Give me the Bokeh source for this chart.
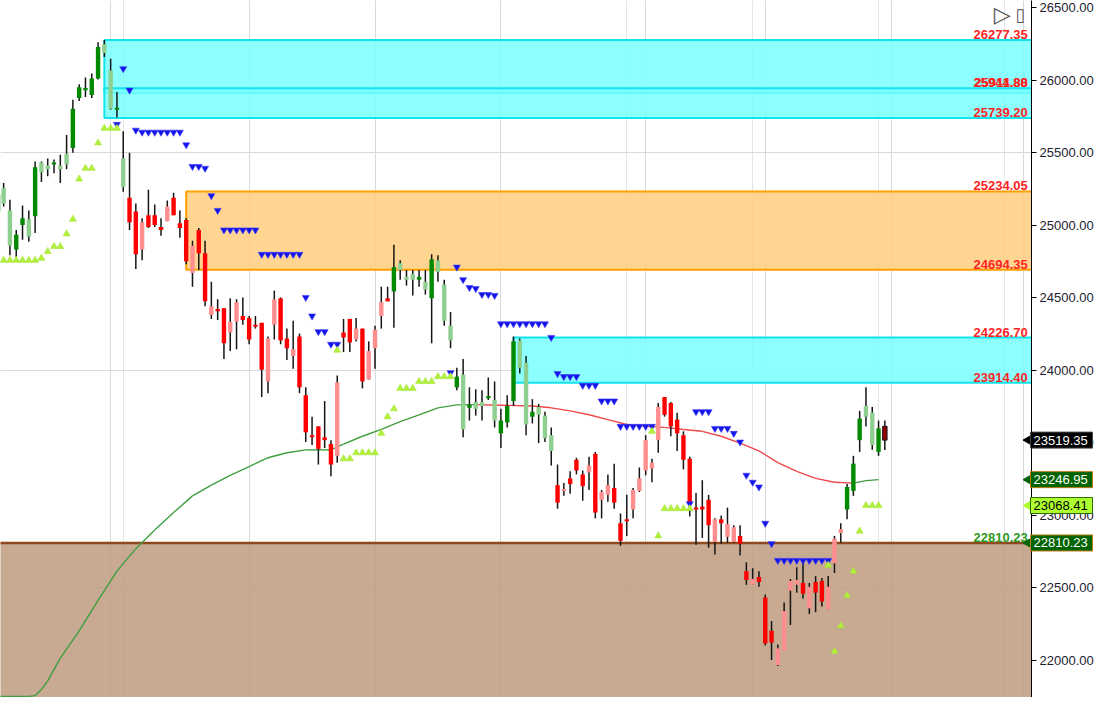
from bokeh.plotting import figure
from bokeh.models import (FixedTicker, PrintfTickFormatter, Grid, Label, ColumnDataSource,
                          Range1d, GridBox)
from bokeh.core.properties import value
from bokeh.embed import file_html
from bokeh.resources import INLINE

# ---------------- data ----------------
opens = [25096,25258,25103,24833,25002,25042,25063,25433,25413,25420,
 25413,25494,25534,25878,25932,25898,26013,26249,26067,25797,
 25460,25191,25096,24833,25069,25069,24989,25029,25191,25015,
 25036,24672,24968,24807,24382,24422,24429,24261,24335,24375,
 24362,24315,24328,23924,24315,24497,24220,24099,24234,23829,
 23553,23614,23539,23492,23411,24261,24355,24213,24288,23937,
 24153,24375,24497,24544,24739,24645,24665,24625,24611,24497,
 24759,24591,24308,23883,23971,23742,23782,23782,23809,23796,
 23566,23641,23789,24207,24052,23681,23748,23688,23553,23209,
 23169,23256,23384,23283,23297,23425,23108,23142,23189,22946,
 22973,23041,23169,23310,23324,23519,23816,23775,23661,23553,
 23391,23054,23061,23108,22818,22973,22852,22818,22859,22616,
 22522,22576,22434,22205,21969,22070,22481,22522,22535,22360,
 22542,22549,22353,22670,22879,23041,23169,23519,23755,23708,
 23438,23614]

highs = [25231,25292,25177,24968,25137,25103,25440,25440,25460,25454,
 25487,25622,25865,25973,26020,26047,26262,26277.35,26148,25919,
 25649,25501,25150,25049,25245,25144,25049,25171,25224,25103,
 25049,24894,24982,24894,24611,24490,24429,24497,24490,24503,
 24375,24375,24328,24234,24550,24503,24288,24342,24254,23883,
 23681,23614,23789,23519,23964,24355,24355,24362,24288,24200,
 24308,24577,24577,24867,24759,24692,24692,24692,24692,24800,
 24793,24625,24402,24018,24079,23883,23870,23863,23951,23924,
 23735,23829,24234,24220,24099,23802,23769,23715,23607,23351,
 23223,23304,23398,23310,23405,23438,23176,23283,23357,23014,
 23142,23189,23331,23553,23391,23775,23816,23782,23708,23580,
 23405,23155,23243,23142,22980,23000,23054,22933,22933,22677,
 22636,22616,22454,22272,22111,22400,22562,22643,22690,22535,
 22582,22569,22582,22859,22946,23216,23411,23721,23883,23748,
 23654,23654]

lows = [25083,25130,24793,24780,24901,24887,24948,25299,25339,25359,
 25292,25386,25501,25858,25885,25878,26006,26161,25797,25743,
 25231,24968,24699,24759,24982,24989,24928,25029,25069,24914,
 24732,24577,24692,24443,24355,24348,24079,24133,24146,24315,
 24180,24288,23816,23843,24213,24180,24072,24011,23843,23506,
 23485,23351,23465,23270,23364,24126,24126,24200,23876,23937,
 24011,24288,24476,24294,24625,24584,24517,24577,24523,24187,
 24611,24308,24153,23863,23539,23654,23688,23654,23796,23607,
 23465,23607,23755,23978,23553,23634,23499,23506,23344,23047,
 23135,23149,23283,23101,23176,22980,22980,23095,23047,22791,
 22859,22980,23162,23277,23229,23432,23681,23546,23445,23317,
 22993,22798,22845,22778,22731,22805,22811,22811,22724,22522,
 22522,22508,22104,22003,21962,22070,22245,22468,22427,22320,
 22333,22373,22353,22603,22811,22973,23135,23438,23614,23452,
 23411,23452]

closes = [25211,25150,24860,24935,25049,24921,25400,25366,25386,25433,
 25386,25420,25804,25952,25946,26013,26229,26188,25804,25811,
 25265,25022,24800,25022,24989,25002,24968,25130,25069,24982,
 24753,24860,24807,24476,24443,24409,24187,24335,24470,24348,
 24213,24301,24005,24220,24490,24207,24153,24146,23883,23573,
 23539,23459,23519,23351,23917,24227,24193,24288,23924,24133,
 24281,24470,24476,24712,24692,24625,24625,24645,24557,24766,
 24678,24342,24207,23957,23593,23762,23735,23755,23822,23654,
 23654,23755,24200,24018,23627,23715,23694,23533,23445,23088,
 23182,23216,23310,23202,23344,23020,23162,23209,23088,22825,
 22960,23176,23256,23519,23364,23748,23694,23614,23566,23384,
 23081,23041,23041,22933,22973,22946,22940,22919,22805,22555,
 22562,22542,22117,22124,22084,22340,22549,22555,22461,22508,
 22468,22407,22508,22839,22906,23196,23357,23668,23681,23485,
 23600,23519.35]

# trend state colouring each candle (G = green family, R = red family)
trend = list("GGGGGGGGGG" "GGGGGGGGGG" "GRRRRRRRRR" "RRRRRRRRRR" "RRRRRRRRRR"
             "RRRRRRRRRR" "RRRGGGGGGG" "GGGGGGGGGG" "GGGGGGGGGR" "RRRRRRRRRR"
             "RRRRRRRRRR" "RRRRRRRRRR" "RRRRRRRRRR" "RRRRRGGGGG" "GR")

# moving average (sampled along the curve)
ma_idx = [-1, 5, 6, 7, 8, 10, 13, 16, 19, 22, 25, 28, 31, 34, 37, 40, 43, 46, 49, 53,
          55, 58, 61, 64, 67, 70, 73, 76, 80, 85, 88, 91, 94, 97, 100, 103, 106, 109, 112, 115,
          118, 121, 124, 127, 130, 133, 136, 138, 140]
ma_val = [21753, 21753, 21758, 21800, 21860, 22016, 22205, 22414, 22616, 22771,
          22899, 23020, 23135, 23209, 23277, 23337, 23398, 23432, 23452, 23452,
          23492, 23546, 23593, 23647, 23694, 23742, 23762, 23764, 23760, 23755,
          23742, 23721, 23694, 23661, 23627, 23614, 23607, 23593, 23580, 23546,
          23499, 23445, 23364, 23304, 23256, 23229, 23223, 23240, 23246.95]

# blue (resistance) trailing-stop markers
sell_idx = [19, 20, 21, 22, 23, 24, 25, 26, 27, 28, 29, 30, 31, 32, 33, 34, 35, 36, 37, 38,
            39, 40, 41, 42, 43, 44, 45, 46, 47, 48, 49, 50, 51, 52, 53, 54,
            72, 73, 74, 75, 76, 77, 78, 79, 80, 81, 82, 83, 84, 85, 86, 87, 88, 89, 90,
            91, 92, 93, 94, 95, 96, 97, 98, 99, 100, 101, 102, 103, 104,
            110, 111, 112, 113, 114, 115, 116, 117, 118, 119, 120, 121, 122, 123,
            124, 125, 126, 127, 128, 129, 130, 131, 132]
sell_val = [25696, 26080, 25932, 25656, 25642, 25642, 25642, 25642, 25642, 25642, 25642,
            25555, 25406, 25406, 25393, 25204, 25103, 24968, 24968, 24968, 24968, 24968, 24968,
            24800, 24800, 24800, 24800, 24800, 24800, 24800, 24503, 24375, 24267, 24267, 24180, 24180,
            23984, 24712, 24625, 24571, 24564, 24523, 24523, 24517, 24321, 24321, 24321, 24321,
            24321, 24321, 24321, 24321, 24227, 23978, 23957, 23957, 23957, 23897, 23897, 23897,
            23789, 23789, 23789, 23614, 23614, 23614, 23614, 23614, 23614,
            23081, 23715, 23715, 23715, 23600, 23600, 23600, 23566, 23506, 23277, 23229, 23196,
            22946, 22805, 22690, 22690, 22690, 22690, 22690, 22690, 22690, 22690, 22690]

# green (support) trailing-stop markers
buy_idx = [0, 1, 2, 3, 4, 5, 6, 7, 8, 9, 10, 11, 12, 13, 14, 15, 16, 17, 18, 19,
           54, 55, 56, 57, 58, 59, 60, 61, 62, 63, 64, 65, 66, 67, 68, 69, 70, 71, 72,
           104, 105, 106, 107, 108, 109, 110,
           132, 133, 134, 135, 136, 137, 138, 139, 140]
buy_val = [24759, 24759, 24759, 24759, 24759, 24759, 24759, 24773, 24820, 24854, 24854,
           24941, 25042, 25319, 25393, 25393, 25568, 25669, 25669, 25669,
           24139, 23391, 23391, 23432, 23432, 23432, 23432, 23566, 23681, 23735,
           23876, 23876, 23876, 23924, 23924, 23924, 23957, 23957, 23957,
           23580, 22859, 23047, 23047, 23047, 23047, 23047,
           22656, 22063, 22239, 22448, 22616, 22892, 23068.41, 23068.41, 23068.41]

# supply / demand zones
zone_start = [17, 17, 30, 82, -5]
zone_top = [26277.35, 25944.88, 25234.05, 24226.70, 22810.23]
zone_bottom = [25911.80, 25739.20, 24694.35, 23914.40, 21000]

zone_label_text = ["26277.35", "25944.88", "25911.80", "25739.20", "25234.05",
                   "24694.35", "24226.70", "23914.40", "22810.23"]
zone_label_level = [26277.35, 25944.88, 25944.88, 25739.20, 25234.05,
                    24694.35, 24226.70, 23914.40, 22810.23]

tag_values = [23519.35, 23246.95, 23068.41, 22810.23]

y_ticks = [22000, 22500, 23000, 23500, 24000, 24500, 25000, 25500, 26000, 26500]
y_grid = [22500, 24000, 25500]
month_idx = [18, 40, 60, 80, 103, 122, 142, 163]

# ---------------- main figure ----------------
W, H = 1096, 697
X0, X1 = 0.5, 164.3
Y0, Y1 = 21745, 26550
yr = Range1d(Y0, Y1)

p = figure(width=W, height=H, x_range=Range1d(X0, X1), y_range=yr,
           output_backend="svg", toolbar_location=None,
           x_axis_location=None, y_axis_location="right",
           min_border_left=0, min_border_top=0, min_border_bottom=0, min_border_right=0)
p.outline_line_color = None
p.background_fill_color = "white"
p.border_fill_color = "white"

yax = p.yaxis[0]
yax.ticker = FixedTicker(ticks=y_ticks)
yax.formatter = PrintfTickFormatter(format="%.2f")
yax.major_label_text_font = "Liberation Sans"
yax.major_label_text_font_size = "13px"
yax.major_label_text_color = "#1c2230"
yax.axis_line_color = "black"
yax.axis_line_width = 1
yax.major_tick_line_color = "black"
yax.major_tick_out = 5
yax.major_tick_in = 0
yax.minor_tick_line_color = None
yax.major_label_standoff = 3

p.ygrid.ticker = FixedTicker(ticks=y_grid)
p.ygrid.grid_line_color = "#d9d9d9"
p.ygrid.grid_line_width = 1
p.add_layout(Grid(dimension=0, ticker=FixedTicker(ticks=month_idx),
                  grid_line_color="#d9d9d9", grid_line_width=1))

# zones
zsrc = ColumnDataSource(dict(
    left=zone_start, right=[X1 + 20] * len(zone_start), top=zone_top, bottom=zone_bottom,
    fill=["#78ffff", "#78ffff", "#ffce7e", "#78ffff", "#be9a7f"],
    line=["#12e4ee", "#12e4ee", "#ffa000", "#12e4ee", "#8e4a1c"],
    lw=[2, 2, 2, 2, 2.5],
))
p.quad(left="left", right="right", top="top", bottom="bottom", source=zsrc,
       fill_color="fill", fill_alpha=0.85, line_color="line", line_width="lw")

# moving average, coloured by slope
seg_col = ["#f04848" if b < a else "#3f9f3f" for a, b in zip(ma_val[:-1], ma_val[1:])]
p.segment(x0=ma_idx[:-1], y0=ma_val[:-1], x1=ma_idx[1:], y1=ma_val[1:],
          line_color=seg_col, line_width=1.4)

# candles
n = len(closes)
idx = list(range(n))
dark = {"G": "#008a00", "R": "#ff0000"}
light = {"G": "#8fcf8f", "R": "#ff8e8e"}
cols, btop, bbot, outl = [], [], [], []
for i in range(n):
    o, c, t = opens[i], closes[i], trend[i]
    bull = c >= o
    is_dark = (t == "G" and bull) or (t == "R" and not bull)
    cols.append(dark[t] if is_dark else light[t])
    hi, lo = max(o, c), min(o, c)
    if hi - lo < 14:
        mid = (hi + lo) / 2
        hi, lo = mid + 7, mid - 7
    btop.append(hi)
    bbot.append(lo)
    outl.append(None)
cols[-1] = "#990000"
outl[-1] = "#111111"

p.segment(x0=idx, y0=highs, x1=idx, y1=lows, line_color="#151515", line_width=1.5)
csrc = ColumnDataSource(dict(x=idx, top=btop, bottom=bbot, col=cols, lc=outl))
p.vbar(x="x", top="top", bottom="bottom", width=0.7, source=csrc,
       fill_color="col", line_color="lc", line_width=1)

# trailing-stop markers
p.scatter(sell_idx, sell_val, marker="inverted_triangle", size=7,
          fill_color="#1414e6", line_color="#3a3aff", line_width=0.6)
p.scatter(buy_idx, buy_val, marker="triangle", size=7,
          fill_color="#b2f03e", line_color="#a4e632", line_width=0.6)

# zone labels
for txt, lvl in zip(zone_label_text, zone_label_level):
    col = "#2e9a1e" if lvl < 23000 else "#ff2424"
    p.add_layout(Label(x=X1 - 0.6, y=lvl, text=txt, text_align="right",
                       text_baseline="bottom", y_offset=1, text_color=col,
                       text_font="Liberation Sans", text_font_size="13px",
                       text_font_style="bold"))

# scroll-to-end icon
p.add_layout(Label(x=X1 - 6.0, y=26455, text="\u25b7", text_align="left",
                   text_baseline="middle", text_color="#555555",
                   text_font="DejaVu Sans", text_font_size="22px"))
p.add_layout(Label(x=X1 - 2.6, y=26455, text="\u25af", text_align="left",
                   text_baseline="middle", text_color="#555555",
                   text_font="DejaVu Sans", text_font_size="18px"))

# ---------------- transparent overlay for the price tags on the axis ----------------
q = figure(frame_width=W, frame_height=H, x_range=Range1d(0, W), y_range=yr,
           output_backend="svg", toolbar_location=None,
           x_axis_location=None, y_axis_location=None,
           min_border_left=0, min_border_top=0, min_border_bottom=0, min_border_right=0)
if "frame_align" in q.properties():
    q.frame_align = False
q.outline_line_color = None
q.background_fill_alpha = 0
q.border_fill_alpha = 0
for g in list(q.grid):
    g.visible = False

tag_bg = ["#000000", "#006400", "#adff2f", "#006400"]
tag_fg = ["#ffffff", "#ffffff", "#000000", "#ffffff"]
tag_ln = ["#444444", "#c07a10", "#2e6b00", "#c07a10"]
tsrc = ColumnDataSource(dict(
    y=tag_values, txt=[f"{v:.2f}" for v in tag_values],
    bg=tag_bg, fg=tag_fg, ln=tag_ln,
    bx=[1061] * 4, ax=[1030] * 4, tx=[1033] * 4,
))
q.scatter(x="ax", y="y", source=tsrc, marker="triangle", angle=1.5708, size=13,
          fill_color="bg", line_color="bg")
q.rect(x="bx", y="y", width=62, height=16, width_units="screen", height_units="screen",
       source=tsrc, fill_color="bg", line_color="ln", line_width=1)
q.text(x="tx", y="y", text="txt", source=tsrc, text_color="fg",
       text_align="left", text_baseline="middle",
       text_font=value("Liberation Sans"), text_font_size="13px")

layout = GridBox(children=[(p, 0, 0), (q, 0, 0)])
open("out.html", "w").write(file_html(layout, INLINE))
